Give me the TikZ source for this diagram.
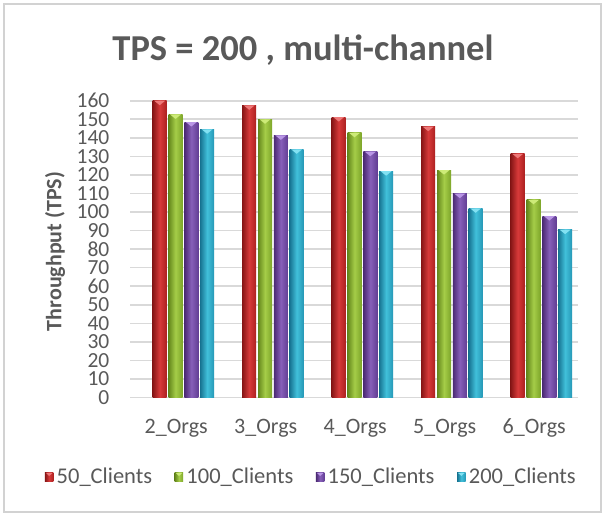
\documentclass[tikz,border=0pt]{standalone}
\usepackage{fontspec}
\setmainfont{Carlito}
\usetikzlibrary{calc}
\definecolor{txt}{RGB}{89,89,89}
\definecolor{gridc}{RGB}{217,217,217}
\definecolor{framec}{RGB}{210,210,210}
\definecolor{rD}{RGB}{135,22,22}\definecolor{rM}{RGB}{215,58,58}\definecolor{rR}{RGB}{172,32,32}\definecolor{rT}{RGB}{238,120,120}
\definecolor{gD}{RGB}{100,135,28}\definecolor{gM}{RGB}{165,205,72}\definecolor{gR}{RGB}{125,165,42}\definecolor{gT}{RGB}{205,235,120}
\definecolor{pD}{RGB}{75,42,115}\definecolor{pM}{RGB}{135,95,185}\definecolor{pR}{RGB}{98,62,148}\definecolor{pT}{RGB}{185,150,230}
\definecolor{cD}{RGB}{22,115,145}\definecolor{cM}{RGB}{65,192,218}\definecolor{cR}{RGB}{38,152,182}\definecolor{cT}{RGB}{130,225,242}
\newcommand\drawbar[3]{%
  \pgfmathsetmacro\ytop{397.5-#2*1.855}%
  \shade[left color=#3D, right color=#3R, middle color=#3M] (#1,397.5) rectangle ({#1+14},\ytop);%
  \fill[#3T] ({#1+1.5},\ytop) -- ({#1+12.5},\ytop) -- ({#1+7},{\ytop+4.5}) -- cycle;%
}
\tikzset{
  gridline/.style={draw=gridc, line width=1.6pt},
  frame/.style={draw=framec, line width=1.8pt},
  tick/.style={text=txt, font=\fontsize{21.5}{24}\selectfont, anchor=east, inner sep=0pt},
  xlab/.style={text=txt, font=\fontsize{22}{24}\selectfont, anchor=base, inner sep=0pt},
  legtxt/.style={text=txt, font=\fontsize{22.5}{24}\selectfont, anchor=base west, inner sep=0pt},
  ttl/.style={text=txt, font=\fontsize{36.5}{40}\selectfont\bfseries, anchor=base, inner sep=0pt},
  ylab/.style={text=txt, font=\fontsize{22}{24}\selectfont\bfseries, rotate=90, inner sep=0pt},
  legsq/.style={minimum size=8.5pt, inner sep=0pt, left color=#1D, right color=#1R, middle color=#1M,
    path picture={\fill[#1T] ([xshift=1pt]path picture bounding box.north west) -- ([xshift=-1pt]path picture bounding box.north east) -- ([yshift=-3pt]path picture bounding box.north) -- cycle;}},
}
\begin{document}
\begin{tikzpicture}[x=1pt,y=-1pt]
\useasboundingbox (0,0) rectangle (603,515);
\fill[white] (0,0) rectangle (603,515);
\draw[frame] (4.3,4.3) rectangle (600.7,512);
% grid
\foreach \v in {0,10,...,160} {
  \draw[gridline] (130,{397.5-\v*1.855}) -- (578,{397.5-\v*1.855});
  \node[tick] (t\v) at (109.5,{397.5-\v*1.855}) {\v};
}
% bars
\foreach \a/\b/\c/\d [count=\i from 0] in {160/152.6/148.5/144.6, 157.5/150/141.3/133.8, 151.2/142.7/132.5/122, 146/122.6/109.9/102, 131.4/106.6/97.8/90.5} {
  \pgfmathsetmacro\xz{152.7+89.5*\i}
  \drawbar{\xz}{\a}{r}
  \drawbar{\xz+15.8}{\b}{g}
  \drawbar{\xz+31.6}{\c}{p}
  \drawbar{\xz+47.4}{\d}{c}
  \pgfmathtruncatemacro\orgs{\i+2}
  \node[xlab] (cat\i) at ({\xz+23.5},433) {\orgs\_Orgs};
}
% title and axis label
\node[ttl] (title) at (303,60) {TPS = 200 , multi-channel};
\node[ylab] (ylabel) at (55,251.5) {Throughput (TPS)};
% legend
\node[legsq=r] (s1) at (49.2,477.2) {};
\node[legtxt] (l1) at (56.5,483.5) {50\_Clients};
\node[legsq=g] (s2) at ($(l1.base east)+(26.6,-6.3)$) {};
\node[legtxt] (l2) at ($(s2.center)+(7.3,6.3)$) {100\_Clients};
\node[legsq=p] (s3) at ($(l2.base east)+(26.6,-6.3)$) {};
\node[legtxt] (l3) at ($(s3.center)+(7.3,6.3)$) {150\_Clients};
\node[legsq=c] (s4) at ($(l3.base east)+(26.6,-6.3)$) {};
\node[legtxt] (l4) at ($(s4.center)+(7.3,6.3)$) {200\_Clients};
\end{tikzpicture}
\end{document}
